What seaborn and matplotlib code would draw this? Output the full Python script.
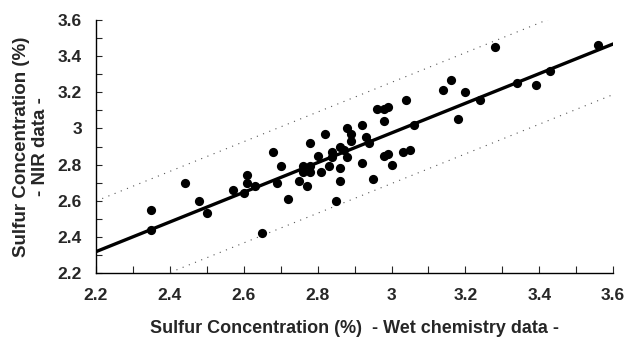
"""
NIR vs wet chemistry sulfur concentration scatter
"""
import numpy as np
import pandas as pd
import matplotlib
matplotlib.use('Agg')
import matplotlib.pyplot as plt
from matplotlib.ticker import MultipleLocator, FormatStrFormatter
import seaborn as sns

# 측정값 (wet chemistry vs NIR)
wet_chem = [2.35, 2.35, 2.44, 2.48, 2.50, 2.57, 2.60, 2.61, 2.61, 2.63,
            2.65, 2.68, 2.69, 2.70, 2.72, 2.75, 2.76, 2.76, 2.77, 2.78,
            2.78, 2.78, 2.80, 2.81, 2.82, 2.83, 2.84, 2.84, 2.85, 2.86,
            2.86, 2.86, 2.87, 2.88, 2.88, 2.89, 2.89, 2.92, 2.92, 2.93,
            2.94, 2.95, 2.96, 2.98, 2.99, 2.98, 2.98, 2.99, 3.00, 3.03,
            3.05, 3.04, 3.06, 3.14, 3.16, 3.20, 3.18, 3.24, 3.28, 3.34,
            3.39, 3.43, 3.56]
nir_data = [2.55, 2.44, 2.70, 2.60, 2.53, 2.66, 2.64, 2.74, 2.70, 2.68,
            2.42, 2.87, 2.70, 2.79, 2.61, 2.71, 2.79, 2.76, 2.68, 2.92,
            2.79, 2.76, 2.85, 2.76, 2.97, 2.79, 2.87, 2.84, 2.60, 2.90,
            2.78, 2.71, 2.88, 2.84, 3.00, 2.97, 2.93, 3.02, 2.81, 2.95,
            2.92, 2.72, 3.11, 3.11, 3.12, 3.04, 2.85, 2.86, 2.80, 2.87,
            2.88, 3.16, 3.02, 3.21, 3.27, 3.20, 3.05, 3.16, 3.45, 3.25,
            3.24, 3.32, 3.46]

# 회귀선 및 예측 구간
fit_slope = 0.821
fit_intercept = 0.512
band_width = 0.28
fit_range = [2.2, 3.6]

axis_ticks = [2.2, 2.4, 2.6, 2.8, 3.0, 3.2, 3.4, 3.6]

sns.set_style('white')
plt.rcParams['font.family'] = ['Liberation Sans', 'DejaVu Sans']
plt.rcParams['font.weight'] = 'bold'

df = pd.DataFrame({'wet': wet_chem, 'nir': nir_data})
fx = np.array(fit_range)
fit_df = pd.DataFrame({
    'x': fx,
    'fit': fit_intercept + fit_slope * fx,
    'upper': fit_intercept + fit_slope * fx + band_width,
    'lower': fit_intercept + fit_slope * fx - band_width,
})

fig = plt.figure(figsize=(6.25, 3.38), dpi=100)
ax = fig.add_axes([0.1536, 0.1923, 0.8275, 0.7485])

sns.lineplot(data=fit_df, x='x', y='upper', ax=ax, color='#555555',
             linewidth=0.8, linestyle=(0, (1, 5)))
sns.lineplot(data=fit_df, x='x', y='lower', ax=ax, color='#555555',
             linewidth=0.8, linestyle=(0, (1, 5)))
sns.lineplot(data=fit_df, x='x', y='fit', ax=ax, color='black', linewidth=2.4)
sns.scatterplot(data=df, x='wet', y='nir', ax=ax, color='black', s=44,
                edgecolor='black', linewidth=0, zorder=5)

ax.set_xlim(2.2, 3.6)
ax.set_ylim(2.2, 3.6)
ax.set_xticks(axis_ticks)
ax.set_yticks(axis_ticks)
ax.xaxis.set_minor_locator(MultipleLocator(0.1))
ax.yaxis.set_minor_locator(MultipleLocator(0.1))
ax.xaxis.set_major_formatter(FormatStrFormatter('%g'))
ax.yaxis.set_major_formatter(FormatStrFormatter('%g'))
ax.tick_params(axis='x', which='both', direction='in', length=5, width=0.8,
               bottom=True, pad=11, labelsize=12.5)
ax.tick_params(axis='y', which='both', direction='in', length=4, width=0.8,
               left=True, pad=10, labelsize=12.5)

for side in ['top', 'right']:
    ax.spines[side].set_visible(False)
for side in ['left', 'bottom']:
    ax.spines[side].set_color('black')
    ax.spines[side].set_linewidth(1.0)

ax.set_xlabel('Sulfur Concentration (%)  - Wet chemistry data -',
              fontsize=13, fontweight='bold', labelpad=12)
ax.set_ylabel('Sulfur Concentration (%)\n- NIR data -',
              fontsize=13.5, fontweight='bold', labelpad=6, linespacing=1.15)

fig.savefig('out.png', dpi=100)
